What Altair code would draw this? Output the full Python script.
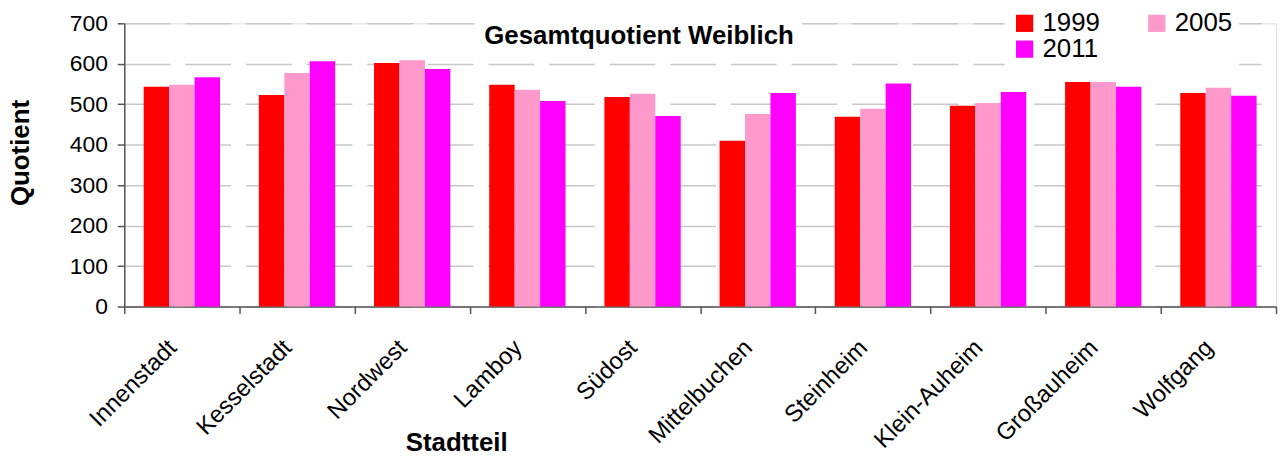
import altair as alt
import pandas as pd

districts = ["Innenstadt", "Kesselstadt", "Nordwest", "Lamboy", "Südost",
             "Mittelbuchen", "Steinheim", "Klein-Auheim", "Großauheim", "Wolfgang"]
years = ["1999", "2005", "2011"]
v1999 = [543, 523, 602, 548, 518, 410, 469, 496, 555, 528]
v2005 = [548, 577, 609, 536, 526, 476, 489, 503, 555, 541]
v2011 = [567, 606, 587, 508, 471, 528, 551, 530, 543, 521]
colors = ["#FF0000", "#FF99CC", "#FF00FF"]
y_ticks = [0, 100, 200, 300, 400, 500, 600, 700]
chart_title = "Gesamtquotient Weiblich"

rows = []
for i, d in enumerate(districts):
    for yr, vals in zip(years, [v1999, v2005, v2011]):
        rows.append({"Stadtteil": d, "Jahr": yr, "Quotient": vals[i]})
df = pd.DataFrame(rows)

FONT = "Liberation Sans, Arial, sans-serif"
AXC = "#555555"

bars = alt.Chart(df).mark_bar(strokeWidth=0).encode(
    x=alt.X("Stadtteil:N", sort=districts,
            scale=alt.Scale(paddingInner=0, paddingOuter=0),
            axis=alt.Axis(title="Stadtteil", labelAngle=-45, labelAlign="right",
                          labelBaseline="top", labelFontSize=24, labelFont=FONT,
                          labelColor="#000000", labelOffset=-18, labelPadding=22,
                          tickBand="extent", tickSize=7, tickColor=AXC, tickWidth=1.5,
                          domainColor=AXC, domainWidth=1.5, grid=False,
                          titleFont=FONT, titleFontSize=26, titleFontWeight="bold",
                          titleColor="#000000", titleX=334, titleY=137,
                          titleAlign="center", titleBaseline="middle")),
    xOffset=alt.XOffset("Jahr:N", sort=years,
                        scale=alt.Scale(paddingInner=0, paddingOuter=0.764)),
    y=alt.Y("Quotient:Q", scale=alt.Scale(domain=[0, 700], nice=False),
            axis=alt.Axis(title="Quotient", values=y_ticks, grid=True,
                          gridDash=[46, 15], gridColor="#c8c8c8", gridWidth=1.5,
                          labelFontSize=23, labelFont=FONT, labelColor="#000000",
                          labelPadding=10, tickSize=7, tickColor=AXC, tickWidth=1.5,
                          domainColor=AXC, domainWidth=1.5,
                          titleFont=FONT, titleFontSize=26, titleFontWeight="bold",
                          titleColor="#000000", titleAngle=270, titleX=-104, titleY=130,
                          titleAlign="center", titleBaseline="middle")),
    color=alt.Color("Jahr:N", sort=years,
                    scale=alt.Scale(domain=years, range=colors),
                    legend=alt.Legend(title=None, orient="none", legendX=886, legendY=-20,
                                      columns=2, direction="horizontal",
                                      symbolType="square", symbolSize=300,
                                      symbolStrokeWidth=0, labelFontSize=26, labelFont=FONT,
                                      labelColor="#000000", labelOffset=5, columnPadding=44,
                                      rowPadding=0, fillColor="white",
                                      padding=7)),
)

title_df = pd.DataFrame({"t": [chart_title]})
title_box = alt.Chart(title_df).mark_rect(color="white").encode(
    x=alt.value(354), x2=alt.value(682), y=alt.value(-8), y2=alt.value(30)
)
title = alt.Chart(title_df).mark_text(
    font=FONT, fontSize=26, fontWeight="bold", color="#000000",
    align="center", baseline="alphabetic"
).encode(text="t:N", x=alt.value(518), y=alt.value(21))

chart = alt.layer(bars, title_box, title).properties(
    width=1159, height=285,
    autosize=alt.AutoSizeParams(type="none"),
    padding={"left": 117, "top": 14, "right": 4, "bottom": 152},
).configure_view(stroke=None).configure(background="white")

chart.save("out.html", embed_options={"renderer": "svg", "actions": False})
